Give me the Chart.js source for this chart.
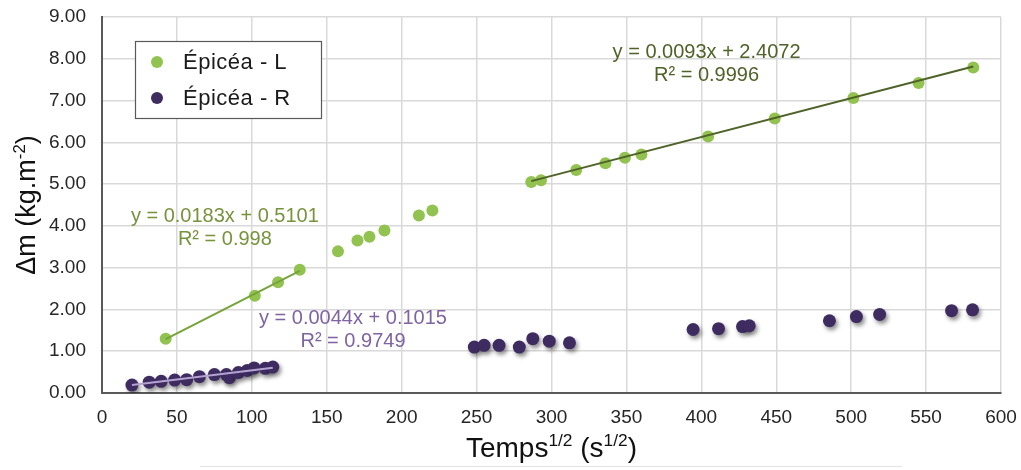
<!DOCTYPE html>
<html>
<head>
<meta charset="utf-8">
<script src="https://cdn.jsdelivr.net/npm/chart.js@4/dist/chart.umd.min.js"></script>
<style>
  html, body { margin: 0; background: #fff; }
</style>
</head>
<body>
<canvas id="chart" width="1021" height="470"></canvas>
<script>
// series names
const seriesNames = ['Épicéa - L', 'Épicéa - R'];

// Épicéa - L (longitudinal)
const lX = [42.5, 102, 117.5, 132, 157.5, 170.5, 178.5, 188.5, 211.5, 220.5,
            286.5, 293, 316.5, 336, 349, 360, 404.5, 449, 501.5, 545, 581.5];
const lY = [1.30, 2.33, 2.65, 2.95, 3.39, 3.65, 3.74, 3.89, 4.25, 4.37,
            5.05, 5.09, 5.34, 5.50, 5.63, 5.71, 6.14, 6.57, 7.06, 7.42, 7.79];

// Épicéa - R (radial)
const rX = [20, 31.5, 39.5, 48.5, 56.5, 65, 75, 83, 85, 91, 97, 101.5, 109, 114,
            248.5, 255, 265, 278.5, 287.5, 298.5, 312,
            394.5, 411.5, 427.5, 432, 485.5, 503.5, 519, 567, 581];
const rY = [0.19, 0.26, 0.28, 0.31, 0.32, 0.39, 0.44, 0.44, 0.37, 0.49, 0.54, 0.60, 0.59, 0.62,
            1.10, 1.14, 1.14, 1.10, 1.30, 1.24, 1.20,
            1.52, 1.54, 1.59, 1.61, 1.73, 1.83, 1.88, 1.97, 1.99];

// linear trendlines as printed on the chart
const trendSlopes = [0.0183, 0.0093, 0.0044];
const trendIntercepts = [0.5101, 2.4072, 0.1015];
const trendR2 = ['0.998', '0.9996', '0.9749'];
const trendFrom = [42.5, 286.5, 20];
const trendTo = [132, 581.5, 114];

// axis ticks
const xTickStep = 50;
const yTickStep = 1;

const greenPt = '#92c24f';
const purplePt = '#3e2c61';
const trendColors = ['#76a33a', '#4f6228', '#b4a3d0'];
const labelColors = ['#77933c', '#4f6228', '#8064a2'];
// label anchors, in data units
const labelAt = [{ x: 82, y: 4.22 }, { x: 403.5, y: 8.15 }, { x: 167.5, y: 1.78 }];

const toPoints = (xs, ys) => xs.map((x, i) => ({ x: x, y: ys[i] }));

const trendSets = trendSlopes.map((m, i) => ({
  data: [
    { x: trendFrom[i], y: m * trendFrom[i] + trendIntercepts[i] },
    { x: trendTo[i], y: m * trendTo[i] + trendIntercepts[i] }
  ],
  showLine: true,
  pointRadius: 0,
  borderColor: trendColors[i],
  borderWidth: 2,
  order: 0
}));

// soft drop shadow under the purple markers
const shadowPlugin = {
  id: 'shadow',
  beforeDatasetDraw(chart, args) {
    if (args.index !== 1) return;
    const ctx = chart.ctx;
    ctx.save();
    ctx.shadowColor = 'rgba(0,0,0,0.45)';
    ctx.shadowBlur = 4;
    ctx.shadowOffsetX = 2;
    ctx.shadowOffsetY = 3;
  },
  afterDatasetDraw(chart, args) {
    if (args.index === 1) chart.ctx.restore();
  }
};

function drawSup(ctx, parts, x, y, size) {
  // parts: [text, isSup]
  let w = 0;
  parts.forEach(p => {
    ctx.font = (p[1] ? size * 0.62 : size) + 'px "Liberation Sans", Arial, sans-serif';
    w += ctx.measureText(p[0]).width;
  });
  let cx = x - w / 2;
  parts.forEach(p => {
    ctx.font = (p[1] ? size * 0.62 : size) + 'px "Liberation Sans", Arial, sans-serif';
    ctx.fillText(p[0], cx, p[1] ? y - size * 0.38 : y);
    cx += ctx.measureText(p[0]).width;
  });
}

const extrasPlugin = {
  id: 'extras',
  afterDraw(chart) {
    const ctx = chart.ctx;
    const a = chart.chartArea;
    const xs = chart.scales.x, ys = chart.scales.y;
    ctx.save();

    // trendline equations
    ctx.textAlign = 'center';
    ctx.textBaseline = 'middle';
    ctx.font = '20px "Liberation Sans", Arial, sans-serif';
    trendSlopes.forEach((m, i) => {
      const px = xs.getPixelForValue(labelAt[i].x);
      const py = ys.getPixelForValue(labelAt[i].y);
      ctx.fillStyle = labelColors[i];
      ctx.fillText('y = ' + m.toFixed(4) + 'x + ' + trendIntercepts[i].toFixed(4), px, py);
      ctx.fillText('R² = ' + trendR2[i], px, py + 23);
    });

    // legend box
    const lx = a.left + 33, ly = a.top + 24;
    ctx.fillStyle = '#fff';
    ctx.fillRect(lx, ly, 186, 77);
    ctx.strokeStyle = '#595959';
    ctx.lineWidth = 1.2;
    ctx.strokeRect(lx + 0.5, ly + 0.5, 186, 77);
    [greenPt, purplePt].forEach((c, i) => {
      const cy = ly + 21 + i * 36;
      ctx.fillStyle = c;
      ctx.beginPath();
      ctx.arc(lx + 22, cy, 6, 0, Math.PI * 2);
      ctx.fill();
      ctx.fillStyle = '#1a1a1a';
      ctx.textAlign = 'left';
      ctx.font = '22px "Liberation Sans", Arial, sans-serif';
      ctx.letterSpacing = '0.5px';
      ctx.fillText(seriesNames[i], lx + 48, cy + 1);
      ctx.letterSpacing = '0px';
    });

    // axis titles
    ctx.fillStyle = '#111';
    ctx.textAlign = 'left';
    ctx.textBaseline = 'alphabetic';
    drawSup(ctx, [['Temps', false], ['1/2', true], [' (s', false], ['1/2', true], [')', false]],
      (a.left + a.right) / 2, 457, 28);
    ctx.save();
    ctx.translate(35, (a.top + a.bottom) / 2);
    ctx.rotate(-Math.PI / 2);
    drawSup(ctx, [['Δm (kg.m', false], ['-2', true], [')', false]], 0, 0, 27);
    ctx.restore();

    // faint rule under the figure
    ctx.strokeStyle = '#e4e4e4';
    ctx.lineWidth = 1;
    ctx.beginPath();
    ctx.moveTo(200, 466.5);
    ctx.lineTo(902, 466.5);
    ctx.stroke();
    ctx.restore();
  }
};

new Chart(document.getElementById('chart'), {
  type: 'scatter',
  data: {
    datasets: [
      { label: seriesNames[0], data: toPoints(lX, lY), backgroundColor: greenPt, borderWidth: 0, pointRadius: 6, order: 2 },
      { label: seriesNames[1], data: toPoints(rX, rY), backgroundColor: purplePt, borderWidth: 0, pointRadius: 6.5, order: 1 },
      ...trendSets
    ]
  },
  options: {
    responsive: false,
    animation: false,
    devicePixelRatio: 1,
    layout: { padding: { top: 17, right: 20, left: 0, bottom: 0 } },
    plugins: { legend: { display: false }, tooltip: { enabled: false } },
    scales: {
      x: {
        type: 'linear', min: 0, max: 600,
        ticks: { stepSize: xTickStep, color: '#262626', padding: 13,
                 font: { size: 19, family: '"Liberation Sans", Arial, sans-serif' } },
        grid: { color: '#d9d9d9', lineWidth: 1.5, drawTicks: false },
        border: { color: '#595959', width: 2 },
        afterFit: s => { s.height = 77; s.paddingLeft = 0; s.paddingRight = 0; }
      },
      y: {
        min: 0, max: 9,
        ticks: { stepSize: yTickStep, color: '#262626', padding: 16,
                 callback: v => v.toFixed(2),
                 font: { size: 19, family: '"Liberation Sans", Arial, sans-serif' } },
        grid: { color: '#d9d9d9', lineWidth: 1.5, drawTicks: false },
        border: { color: '#595959', width: 2 },
        afterFit: s => { s.width = 102; s.paddingTop = 0; s.paddingBottom = 0; }
      }
    }
  },
  plugins: [shadowPlugin, extrasPlugin]
});
</script>
</body>
</html>
